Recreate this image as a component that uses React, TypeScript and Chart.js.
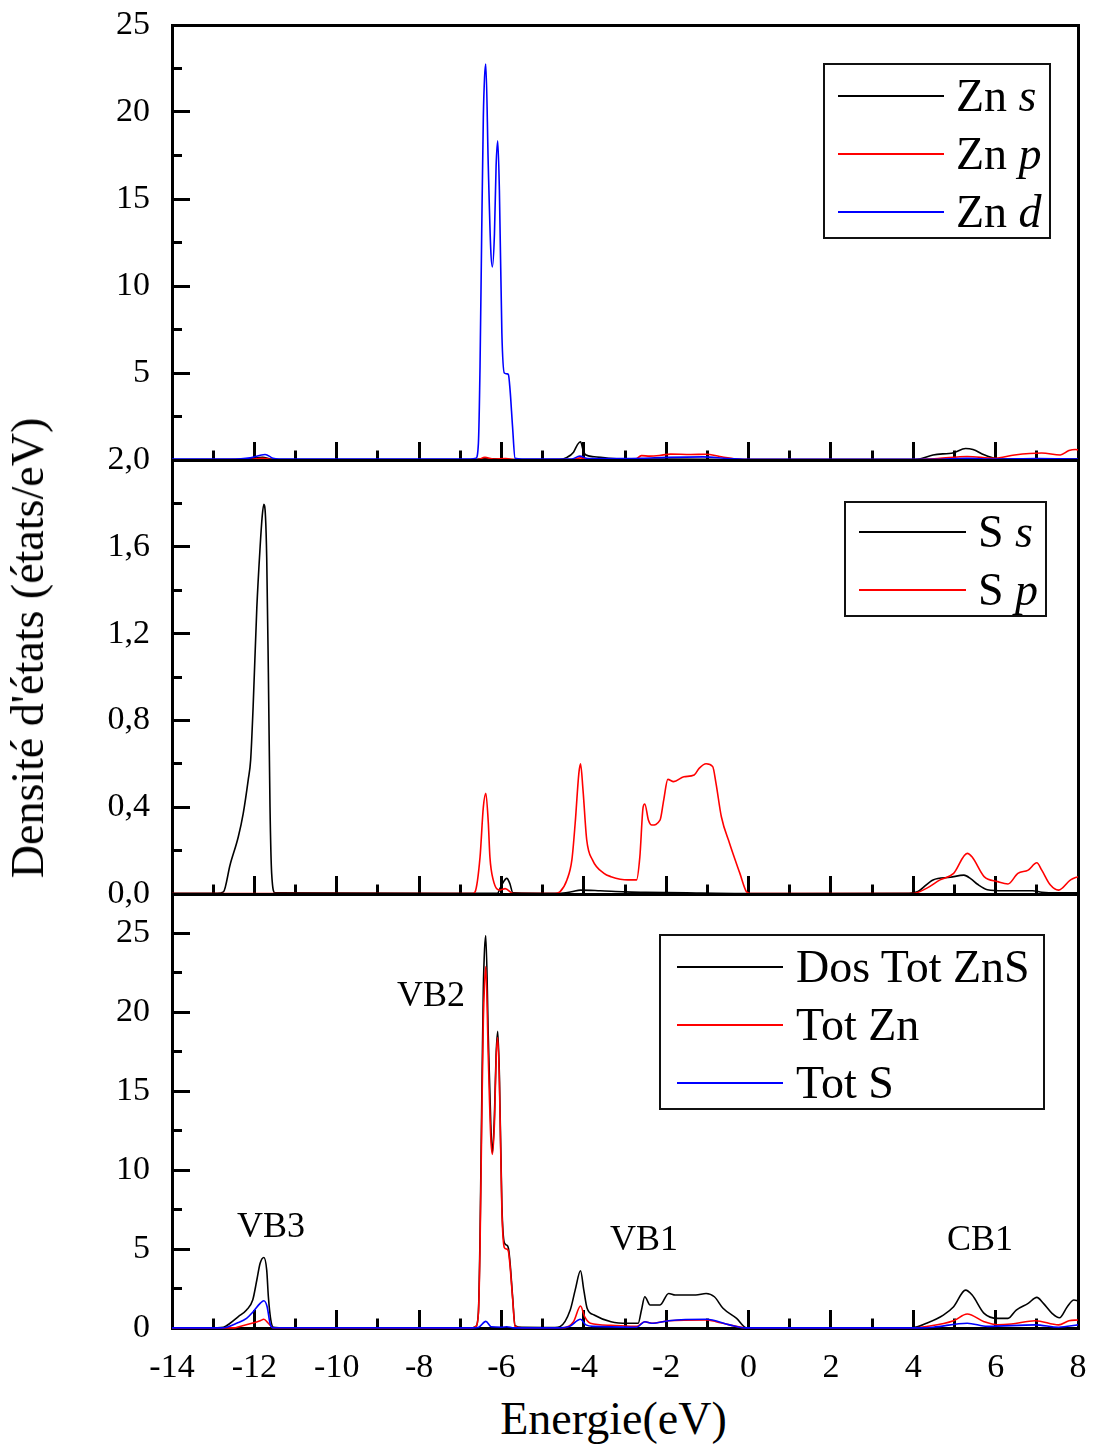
import React, { useEffect, useRef } from "react";
import { Chart, registerables } from "chart.js";

Chart.register(...registerables);

type Pt = [number, number];

// ---------------- data ----------------
const ENERGY_MIN = -14;
const ENERGY_MAX = 8;
const ENERGY_LABEL_STEP = 2;

const X_TITLE = "Energie(eV)";
const Y_TITLE = "Densité d'états (états/eV)";
const BAND_LABELS = ["VB3", "VB2", "VB1", "CB1"];

// Panel 1 : Zn partial DOS
const ZN_S: Pt[] = [
  [-14, 0.02], [-12.6, 0.03], [-12.1, 0.07], [-11.8, 0.15], [-11.6, 0.06], [-11.4, 0.02],
  [-6.7, 0.02], [-6.4, 0.08], [-6.0, 0.06], [-5.7, 0.02], [-4.6, 0.03], [-4.41, 0.15],
  [-4.25, 0.45], [-4.15, 0.9], [-4.08, 1.05], [-4.02, 0.6], [-3.96, 0.3], [-3.75, 0.19],
  [-3.4, 0.1], [-3.0, 0.06], [-2.0, 0.05], [-1.0, 0.04], [0, 0.02], [3.9, 0.02],
  [4.15, 0.06], [4.48, 0.29], [4.98, 0.42], [5.27, 0.66], [5.45, 0.6], [5.72, 0.3],
  [5.97, 0.1], [6.3, 0.05], [8, 0.05],
];
const ZN_P: Pt[] = [
  [-14, 0.01], [-12.2, 0.02], [-11.8, 0.1], [-11.5, 0.01], [-6.6, 0.01], [-6.4, 0.15],
  [-6.2, 0.05], [-5.9, 0.08], [-5.6, 0.01], [-4.3, 0.02], [-4.08, 0.12], [-3.9, 0.03],
  [-2.75, 0.05], [-2.6, 0.25], [-2.4, 0.22], [-2.1, 0.28], [-1.9, 0.34], [-1.4, 0.32],
  [-1.03, 0.33], [-0.7, 0.2], [-0.3, 0.06], [0, 0.02], [4.0, 0.02], [4.6, 0.08],
  [5.31, 0.2], [5.97, 0.1], [6.46, 0.29], [7.12, 0.4], [7.57, 0.29], [7.78, 0.54],
  [7.94, 0.6], [8, 0.58],
];
const ZN_D: Pt[] = [
  [-14, 0.05], [-12.6, 0.05], [-12.1, 0.12], [-11.74, 0.32], [-11.55, 0.1], [-11.4, 0.05],
  [-6.75, 0.05], [-6.62, 0.1], [-6.56, 0.95], [-6.52, 5.4], [-6.48, 13], [-6.44, 19.7],
  [-6.41, 22], [-6.38, 22.76], [-6.32, 16.9], [-6.26, 12.1], [-6.22, 11.1], [-6.17, 13],
  [-6.13, 16.9], [-6.09, 18.35], [-6.05, 15.5], [-5.99, 7.3], [-5.93, 5.0], [-5.86, 4.95],
  [-5.83, 4.9], [-5.79, 4.0], [-5.73, 1.9], [-5.67, 0.1], [-5.5, 0.05], [-4.3, 0.05],
  [-4.1, 0.22], [-3.9, 0.08], [-2.6, 0.1], [-2.0, 0.15], [-1.1, 0.18], [-0.5, 0.08],
  [0, 0.04], [4.5, 0.04], [5.3, 0.1], [6, 0.05], [7, 0.08], [8, 0.05],
];

// Panel 2 : S partial DOS
const S_S: Pt[] = [
  [-14, 0.003], [-12.9, 0.003], [-12.75, 0.01], [-12.59, 0.134], [-12.39, 0.264],
  [-12.27, 0.372], [-12.15, 0.525], [-12.09, 0.618], [-12.03, 0.863], [-11.94, 1.32],
  [-11.86, 1.6], [-11.81, 1.74], [-11.77, 1.796], [-11.73, 1.74], [-11.7, 1.55],
  [-11.66, 1.02], [-11.62, 0.4], [-11.58, 0.095], [-11.5, 0.005], [-6.1, 0.003],
  [-6.0, 0.04], [-5.87, 0.072], [-5.8, 0.05], [-5.72, 0.005], [-4.6, 0.003], [-4.3, 0.01],
  [-4.08, 0.018], [-3.6, 0.015], [-3.0, 0.01], [-2.5, 0.008], [-1.5, 0.005], [0, 0.002],
  [3.9, 0.003], [4.1, 0.01], [4.48, 0.065], [4.9, 0.077], [5.23, 0.087], [5.4, 0.07],
  [5.56, 0.045], [5.8, 0.02], [6.2, 0.015], [6.9, 0.015], [7.12, 0.008], [7.5, 0.005],
  [8, 0.005],
];
const S_P: Pt[] = [
  [-14, 0.002], [-6.7, 0.002], [-6.64, 0.01], [-6.52, 0.17], [-6.44, 0.4], [-6.38, 0.464],
  [-6.32, 0.33], [-6.28, 0.17], [-6.2, 0.065], [-6.03, 0.018], [-5.91, 0.025], [-5.71, 0.002],
  [-4.7, 0.002], [-4.58, 0.01], [-4.41, 0.065], [-4.29, 0.157], [-4.21, 0.326], [-4.12, 0.557],
  [-4.08, 0.6], [-4.02, 0.48], [-3.93, 0.25], [-3.79, 0.157], [-3.51, 0.095], [-3.34, 0.08],
  [-2.93, 0.065], [-2.72, 0.065], [-2.64, 0.17], [-2.56, 0.4], [-2.52, 0.415], [-2.43, 0.34],
  [-2.35, 0.318], [-2.15, 0.34], [-2.06, 0.433], [-1.96, 0.528], [-1.82, 0.518], [-1.57, 0.54],
  [-1.32, 0.548], [-1.2, 0.579], [-1.03, 0.6], [-0.87, 0.587], [-0.79, 0.51], [-0.66, 0.356],
  [-0.46, 0.233], [-0.21, 0.095], [-0.05, 0.01], [0.04, 0.002], [3.99, 0.002], [4.32, 0.026],
  [4.65, 0.065], [4.98, 0.095], [5.31, 0.187], [5.43, 0.17], [5.72, 0.08], [6.05, 0.057],
  [6.3, 0.046], [6.54, 0.095], [6.79, 0.11], [7.0, 0.144], [7.12, 0.11], [7.33, 0.041],
  [7.53, 0.018], [7.82, 0.065], [8, 0.08],
];

// Panel 3 : total DOS
const TOT_ZNS: Pt[] = [
  [-14, 0.02], [-12.9, 0.02], [-12.75, 0.05], [-12.59, 0.3], [-12.39, 0.72], [-12.19, 1.14],
  [-12.04, 1.77], [-11.94, 3.04], [-11.86, 4.1], [-11.77, 4.47], [-11.7, 3.67], [-11.66, 1.98],
  [-11.6, 0.5], [-11.54, 0.05], [-11.4, 0.02], [-6.7, 0.02], [-6.62, 0.1], [-6.56, 1.0],
  [-6.52, 5.8], [-6.48, 14], [-6.44, 21.5], [-6.41, 24], [-6.38, 24.87], [-6.32, 18.5],
  [-6.26, 13], [-6.22, 11.1], [-6.17, 13.5], [-6.13, 17.3], [-6.09, 18.8], [-6.05, 16],
  [-5.99, 7.8], [-5.93, 5.4], [-5.87, 5.25], [-5.83, 5.04], [-5.79, 4.1], [-5.73, 2.0],
  [-5.67, 0.15], [-5.5, 0.04], [-4.7, 0.03], [-4.58, 0.08], [-4.33, 1.14], [-4.21, 2.4],
  [-4.08, 3.63], [-4.0, 2.4], [-3.92, 1.25], [-3.75, 0.82], [-3.34, 0.4], [-2.93, 0.3],
  [-2.68, 0.3], [-2.6, 1.14], [-2.52, 1.98], [-2.39, 1.46], [-2.15, 1.46], [-1.94, 2.19],
  [-1.78, 2.09], [-1.28, 2.09], [-1.03, 2.19], [-0.83, 1.98], [-0.62, 1.25], [-0.29, 0.61],
  [-0.05, 0.02], [3.99, 0.02], [4.32, 0.3], [4.73, 0.82], [4.98, 1.35], [5.27, 2.4],
  [5.43, 2.09], [5.72, 0.93], [6.05, 0.61], [6.3, 0.61], [6.5, 1.14], [6.79, 1.56],
  [7.0, 1.94], [7.16, 1.56], [7.37, 0.93], [7.55, 0.65], [7.74, 1.35], [7.9, 1.77], [8, 1.73],
];
const TOT_ZN: Pt[] = [
  [-14, 0.01], [-12.5, 0.01], [-12.35, 0.1], [-12.06, 0.3], [-11.86, 0.46], [-11.77, 0.55],
  [-11.66, 0.3], [-11.55, 0.02], [-6.7, 0.01], [-6.62, 0.1], [-6.56, 0.9], [-6.52, 5.2],
  [-6.48, 12.8], [-6.44, 19.5], [-6.41, 21.8], [-6.38, 22.9], [-6.32, 17.2], [-6.26, 12.1],
  [-6.22, 11.0], [-6.17, 13], [-6.13, 17], [-6.09, 18.4], [-6.05, 15.6], [-5.99, 7.5],
  [-5.93, 5.1], [-5.87, 5.0], [-5.83, 4.85], [-5.79, 3.9], [-5.73, 1.9], [-5.67, 0.1],
  [-5.5, 0.02], [-4.5, 0.02], [-4.25, 0.4], [-4.08, 1.39], [-3.98, 0.72], [-3.84, 0.3],
  [-3.34, 0.17], [-2.72, 0.1], [-2.52, 0.4], [-2.35, 0.3], [-1.94, 0.46], [-1.03, 0.51],
  [-0.79, 0.4], [-0.46, 0.2], [-0.09, 0.02], [4.0, 0.02], [4.32, 0.1], [4.98, 0.46],
  [5.31, 0.89], [5.72, 0.4], [6.05, 0.2], [6.38, 0.25], [6.96, 0.46], [7.53, 0.2],
  [7.78, 0.46], [8, 0.51],
];
const TOT_S: Pt[] = [
  [-14, 0.01], [-12.8, 0.01], [-12.67, 0.05], [-12.43, 0.3], [-12.19, 0.61], [-12.03, 1.03],
  [-11.86, 1.56], [-11.77, 1.73], [-11.69, 1.35], [-11.62, 0.3], [-11.55, 0.02], [-6.7, 0.01],
  [-6.55, 0.05], [-6.38, 0.42], [-6.25, 0.08], [-6.0, 0.05], [-5.87, 0.08], [-5.7, 0.01],
  [-4.6, 0.01], [-4.35, 0.1], [-4.08, 0.55], [-3.95, 0.2], [-3.75, 0.1], [-2.72, 0.05],
  [-2.52, 0.4], [-2.35, 0.3], [-1.94, 0.46], [-1.03, 0.55], [-0.46, 0.2], [-0.09, 0.01],
  [4.2, 0.01], [4.48, 0.05], [5.31, 0.3], [5.8, 0.1], [6.96, 0.2], [7.53, 0.05], [8, 0.2],
];

// ---------------- styles / layout ----------------
const BLACK = "#000000";
const RED = "#ff0000";
const BLUE = "#0000ff";
const FONT = '"Liberation Serif", "Times New Roman", Times, serif';
const W = 1093;
const H = 1446;

type Series = { name: string; orbital: string; color: string; data: Pt[] };

type PanelCfg = {
  top: number;
  height: number;
  padTop: number;
  padBottom: number;
  xAxisHeight: number;
  showXLabels: boolean;
  yMax: number;
  yStep: number;
  yMajor: number;
  yLabel: (v: number) => string;
  series: Series[];
  legend: {
    box: { left: number; top: number; width: number; height: number };
    lineX: [number, number];
    textX: number;
    rowsY: number[];
  };
};

const isMultiple = (v: number, step: number) => {
  const r = v / step;
  return Math.abs(r - Math.round(r)) < 1e-6;
};

const PANELS: PanelCfg[] = [
  {
    top: 0, height: 485, padTop: 25, padBottom: 25, xAxisHeight: 0, showXLabels: false,
    yMax: 25, yStep: 2.5, yMajor: 5,
    yLabel: (v) => (isMultiple(v, 5) && v > 0 ? String(v) : ""),
    series: [
      { name: "Zn", orbital: "s", color: BLACK, data: ZN_S },
      { name: "Zn", orbital: "p", color: RED, data: ZN_P },
      { name: "Zn", orbital: "d", color: BLUE, data: ZN_D },
    ],
    legend: { box: { left: 823, top: 63, width: 228, height: 176 }, lineX: [838, 944], textX: 956, rowsY: [96, 154, 212] },
  },
  {
    top: 430, height: 489, padTop: 30, padBottom: 25, xAxisHeight: 0, showXLabels: false,
    yMax: 2, yStep: 0.2, yMajor: 0.4,
    yLabel: (v) => (isMultiple(v, 0.4) ? v.toFixed(1).replace(".", ",") : ""),
    series: [
      { name: "S", orbital: "s", color: BLACK, data: S_S },
      { name: "S", orbital: "p", color: RED, data: S_P },
    ],
    legend: { box: { left: 844, top: 501, width: 203, height: 116 }, lineX: [859, 966], textX: 978, rowsY: [532, 590] },
  },
  {
    top: 864, height: 524, padTop: 30, padBottom: 0, xAxisHeight: 60, showXLabels: true,
    yMax: 27.5, yStep: 2.5, yMajor: 5,
    yLabel: (v) => (isMultiple(v, 5) ? String(v) : ""),
    series: [
      { name: "Dos Tot ZnS", orbital: "", color: BLACK, data: TOT_ZNS },
      { name: "Tot Zn", orbital: "", color: RED, data: TOT_ZN },
      { name: "Tot S", orbital: "", color: BLUE, data: TOT_S },
    ],
    legend: { box: { left: 659, top: 934, width: 386, height: 176 }, lineX: [677, 783], textX: 796, rowsY: [967, 1025, 1083] },
  },
];

const BAND_POS = [
  { left: 237, baseline: 1237 },
  { left: 397, baseline: 1006 },
  { left: 610, baseline: 1250 },
  { left: 947, baseline: 1250 },
];

const TICK_FONT = { family: FONT, size: 34, lineHeight: 1.2 };

const zeroPadding = (s: any) => {
  s.paddingLeft = 0;
  s.paddingRight = 0;
  s.paddingTop = 0;
  s.paddingBottom = 0;
};

function buildConfig(p: PanelCfg): any {
  const n = p.series.length;
  return {
    type: "line",
    data: {
      datasets: p.series.map((s, i) => ({
        label: s.orbital ? `${s.name} ${s.orbital}` : s.name,
        data: s.data.map(([x, y]) => ({ x, y })),
        borderColor: s.color,
        backgroundColor: s.color,
        borderWidth: 1.6,
        pointRadius: 0,
        fill: false,
        cubicInterpolationMode: "monotone",
        order: n - i,
        clip: false,
        xAxisID: "x",
        yAxisID: "y",
      })),
    },
    options: {
      responsive: false,
      animation: false,
      devicePixelRatio: 1,
      events: [],
      layout: { padding: { left: 0, right: 15, top: p.padTop, bottom: p.padBottom } },
      plugins: { legend: { display: false }, tooltip: { enabled: false }, title: { display: false } },
      scales: {
        x: {
          type: "linear",
          position: "bottom",
          min: ENERGY_MIN,
          max: ENERGY_MAX,
          ticks: {
            stepSize: 1,
            autoSkip: false,
            maxTicksLimit: 200,
            maxRotation: 0,
            minRotation: 0,
            padding: 38,
            color: BLACK,
            font: TICK_FONT,
            callback: (v: number) => (p.showXLabels && isMultiple(v, ENERGY_LABEL_STEP) ? String(v) : ""),
          },
          grid: {
            drawOnChartArea: false,
            drawTicks: true,
            tickLength: -18,
            tickWidth: 3,
            tickColor: BLACK,
            tickBorderDash: (ctx: any) => (isMultiple(ctx.tick.value, ENERGY_LABEL_STEP) ? [] : [11.5, 100]),
          },
          border: { display: true, width: 3, color: BLACK },
          afterFit: (s: any) => { s.height = p.xAxisHeight; zeroPadding(s); },
        },
        xTop: {
          type: "linear",
          position: "top",
          min: ENERGY_MIN,
          max: ENERGY_MAX,
          ticks: { display: false },
          grid: { drawOnChartArea: false, drawTicks: false },
          border: { display: true, width: 3, color: BLACK },
          afterFit: (s: any) => { s.height = 0; zeroPadding(s); },
        },
        y: {
          type: "linear",
          position: "left",
          min: 0,
          max: p.yMax,
          ticks: {
            stepSize: p.yStep,
            autoSkip: false,
            maxTicksLimit: 200,
            padding: 40,
            color: BLACK,
            font: TICK_FONT,
            callback: (v: number) => p.yLabel(v),
          },
          grid: {
            drawOnChartArea: false,
            drawTicks: true,
            tickLength: -18,
            tickWidth: 3,
            tickColor: BLACK,
            tickBorderDash: (ctx: any) => (isMultiple(ctx.tick.value, p.yMajor) ? [] : [0, 8, 100, 0]),
          },
          border: { display: true, width: 3, color: BLACK },
          afterFit: (s: any) => { s.width = 172; zeroPadding(s); },
        },
        yRight: {
          type: "linear",
          position: "right",
          min: 0,
          max: p.yMax,
          ticks: { display: false },
          grid: { drawOnChartArea: false, drawTicks: false },
          border: { display: true, width: 3, color: BLACK },
          afterFit: (s: any) => { s.width = 0; zeroPadding(s); },
        },
      },
    },
  };
}

function PanelChart({ cfg }: { cfg: PanelCfg }) {
  const ref = useRef<HTMLCanvasElement>(null);
  useEffect(() => {
    if (!ref.current) return;
    const chart = new Chart(ref.current, buildConfig(cfg));
    return () => chart.destroy();
  }, [cfg]);
  return (
    <canvas
      ref={ref}
      width={W}
      height={cfg.height}
      style={{ position: "absolute", left: 0, top: cfg.top, width: W, height: cfg.height }}
    />
  );
}

// place text by its baseline (Liberation Serif, line-height = font size)
function Txt(props: { x: number; baseline: number; size: number; center?: boolean; children: React.ReactNode }) {
  const { x, baseline, size, center, children } = props;
  return (
    <div
      style={{
        position: "absolute",
        left: x,
        top: baseline - 0.8375 * size,
        fontSize: size,
        lineHeight: `${size}px`,
        fontFamily: FONT,
        color: BLACK,
        whiteSpace: "nowrap",
        transform: center ? "translateX(-50%)" : undefined,
      }}
    >
      {children}
    </div>
  );
}

function Legend({ cfg }: { cfg: PanelCfg }) {
  const L = cfg.legend;
  return (
    <>
      <div
        style={{
          position: "absolute",
          left: L.box.left,
          top: L.box.top,
          width: L.box.width,
          height: L.box.height,
          border: "2px solid #111",
          boxSizing: "border-box",
          background: "transparent",
        }}
      />
      {cfg.series.map((s, i) => (
        <React.Fragment key={i}>
          <div
            style={{
              position: "absolute",
              left: L.lineX[0],
              top: L.rowsY[i] - 1,
              width: L.lineX[1] - L.lineX[0],
              height: 1.6,
              background: s.color,
            }}
          />
          <Txt x={L.textX} baseline={L.rowsY[i] + 15.5} size={46}>
            {s.orbital ? (
              <>
                {s.name} <i>{s.orbital}</i>
              </>
            ) : (
              s.name
            )}
          </Txt>
        </React.Fragment>
      ))}
    </>
  );
}

export default function App() {
  return (
    <div
      style={{
        position: "absolute",
        left: 0,
        top: 0,
        width: W,
        height: H,
        background: "#ffffff",
        overflow: "hidden",
        fontFamily: FONT,
      }}
    >
      {PANELS.map((p, i) => (
        <PanelChart key={i} cfg={p} />
      ))}
      {PANELS.map((p, i) => (
        <Legend key={"l" + i} cfg={p} />
      ))}
      {BAND_LABELS.map((t, i) => (
        <Txt key={t} x={BAND_POS[i].left} baseline={BAND_POS[i].baseline} size={36}>
          {t}
        </Txt>
      ))}
      <Txt x={613.5} baseline={1435} size={46} center>
        {X_TITLE}
      </Txt>
      <div
        style={{
          position: "absolute",
          left: 28,
          top: 648,
          fontSize: 46,
          lineHeight: "46px",
          fontFamily: FONT,
          color: BLACK,
          whiteSpace: "nowrap",
          transform: "translate(-50%, -50%) rotate(-90deg)",
        }}
      >
        {Y_TITLE}
      </div>
    </div>
  );
}
